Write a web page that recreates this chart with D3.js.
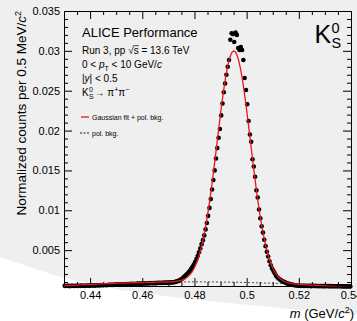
<!DOCTYPE html>
<html><head><meta charset="utf-8">
<script src="https://cdn.jsdelivr.net/npm/d3@7"></script>
<style>
html,body{margin:0;padding:0;background:#fff;}
svg{display:block;font-family:"Liberation Sans",Arial,Helvetica,sans-serif;}
</style></head><body>
<svg id="c" width="357" height="321"></svg>
<script>
// ---- data ----
const binStart = 0.43025;     // centre of first 0.5 MeV bin (GeV/c^2)
const binWidth = 0.0005;
const counts = [
 0.00052,0.00050,0.00053,0.00051,0.00049,0.00052,0.00054,0.00050,0.00052,0.00053,
 0.00051,0.00054,0.00052,0.00055,0.00053,0.00051,0.00054,0.00056,0.00053,0.00055,
 0.00055,0.00058,0.00056,0.00055,0.00058,0.00060,0.00057,0.00059,0.00061,0.00059,
 0.00061,0.00063,0.00060,0.00063,0.00065,0.00064,0.00066,0.00063,0.00067,0.00065,
 0.00068,0.00070,0.00067,0.00071,0.00069,0.00072,0.00074,0.00071,0.00073,0.00075,
 0.00074,0.00077,0.00075,0.00078,0.00076,0.00079,0.00081,0.00078,0.00080,0.00082,
 0.00081,0.00083,0.00081,0.00084,0.00082,0.00085,0.00087,0.00084,0.00086,0.00088,
 0.00087,0.00089,0.00087,0.00090,0.00088,0.00091,0.00090,0.00092,0.00091,0.00093,
 0.00093,0.00094,0.00095,0.00096,0.00098,0.00102,0.00108,0.00113,0.00120,0.00130,
 0.00141,0.00157,0.00172,0.00188,0.00204,0.00223,0.00242,0.00265,0.00292,0.00320,
 0.00351,0.00388,0.00428,0.00473,0.00522,0.00575,0.00625,0.00685,0.00760,0.00840,
 0.00930,0.01030,0.01140,0.01260,0.01380,0.01500,0.01650,0.01780,0.01910,0.02020,
 0.02190,0.02340,0.02480,0.02590,0.02700,0.02800,0.02885,0.03140,0.03220,0.03210,
 0.03111,0.03230,0.03200,0.03036,0.03011,0.03048,0.03011,0.02885,0.02659,0.02509,
 0.02330,0.02120,0.01950,0.01860,0.01640,0.01550,0.01420,0.01250,0.01160,0.01010,
 0.00900,0.00800,0.00720,0.00630,0.00550,0.00480,0.00420,0.00360,0.00310,0.00270,
 0.00240,0.00210,0.00180,0.00160,0.00145,0.00130,0.00120,0.00110,0.00102,0.00095,
 0.00088,0.00082,0.00077,0.00072,0.00068,0.00064,0.00061,0.00058,0.00056,0.00054,
 0.00054,0.00052,0.00053,0.00051,0.00052,0.00053,0.00050,0.00052,0.00051,0.00049,
 0.00051,0.00050,0.00052,0.00049,0.00050,0.00048,0.00050,0.00049,0.00048,0.00049,
 0.00048,0.00050,0.00048,0.00048,0.00047,0.00048,0.00047,0.00046,0.00047,0.00046,
 0.00048,0.00046,0.00046,0.00045,0.00046,0.00045,0.00045,0.00046,0.00045,0.00044
];
// fit: Gaussian + pol2 background (parameters)
const gausAmp = 0.0290, gausMean = 0.4951, gausSigma = 0.0064;
const bkgRef = 0.49;
const bkgCoeffs = [0.00100, -0.0040, -0.20];
const xDomain = [0.43, 0.54];
const yDomain = [0.0005, 0.035];
const xTicks = [0.44, 0.46, 0.48, 0.50, 0.52, 0.54];
const xTickLabels = ["0.44", "0.46", "0.48", "0.5", "0.52", "0.54"];
const yTicks = [0.005, 0.010, 0.015, 0.020, 0.025, 0.030, 0.035];
const yTickLabels = ["0.005", "0.01", "0.015", "0.02", "0.025", "0.03", "0.035"];

// ---- layout ----
const W = 357, H = 321;
const L = 64, R = 351, T = 11, B = 286;
const svg = d3.select("#c");

// background: gray with white swoosh at the bottom
svg.append("rect").attr("width", W).attr("height", H).attr("fill", "#efefef");
const swooshEdge = [[0,257],[60,277],[120,290],[180,298],[240,304],[300,310],[357,315]];
svg.append("path").attr("d", d3.line()(swooshEdge.concat([[357,321],[0,321]])) + "Z").attr("fill", "#ffffff");

svg.append("clipPath").attr("id", "plotclip").append("rect")
  .attr("x", L).attr("y", T).attr("width", R - L).attr("height", B - T + 0.5);

const x = d3.scaleLinear().domain(xDomain).range([L, R]);
const y = d3.scaleLinear().domain(yDomain).range([B, T]);

const xMinor = d3.range(0.43, 0.5401, 0.005).filter(v => !xTicks.some(t => Math.abs(t - v) < 1e-6));
const yMinor = d3.range(0.001, 0.03501, 0.001).filter(v => !yTicks.some(t => Math.abs(t - v) < 1e-6));

function styleAxis(g) {
  g.selectAll("path,line").attr("stroke", "#000").attr("stroke-width", 1);
  g.attr("font-family", null).attr("font-size", null);
  g.selectAll("text").attr("fill", "#000").attr("font-size", 11);
}

// bottom
svg.append("g").attr("transform", `translate(0,${B})`)
  .call(d3.axisBottom(x).tickValues(xMinor).tickSize(-4).tickSizeOuter(0).tickFormat("")).call(styleAxis);
svg.append("g").attr("transform", `translate(0,${B})`)
  .call(d3.axisBottom(x).tickValues(xTicks).tickSize(-8).tickSizeOuter(0).tickPadding(5)
  .tickFormat((d, i) => xTickLabels[i])).call(styleAxis);
// top
svg.append("g").attr("transform", `translate(0,${T})`)
  .call(d3.axisTop(x).tickValues(xMinor).tickSize(-4).tickSizeOuter(0).tickFormat("")).call(styleAxis);
svg.append("g").attr("transform", `translate(0,${T})`)
  .call(d3.axisTop(x).tickValues(xTicks).tickSize(-8).tickSizeOuter(0).tickFormat("")).call(styleAxis);
// left
svg.append("g").attr("transform", `translate(${L},0)`)
  .call(d3.axisLeft(y).tickValues(yMinor).tickSize(-4).tickSizeOuter(0).tickFormat("")).call(styleAxis);
svg.append("g").attr("transform", `translate(${L},0)`)
  .call(d3.axisLeft(y).tickValues(yTicks).tickSize(-8).tickSizeOuter(0).tickPadding(4)
  .tickFormat((d, i) => yTickLabels[i])).call(styleAxis);
// right
svg.append("g").attr("transform", `translate(${R},0)`)
  .call(d3.axisRight(y).tickValues(yMinor).tickSize(-4).tickSizeOuter(0).tickFormat("")).call(styleAxis);
svg.append("g").attr("transform", `translate(${R},0)`)
  .call(d3.axisRight(y).tickValues(yTicks).tickSize(-8).tickSizeOuter(0).tickFormat("")).call(styleAxis);

// data points
const pts = counts.map((v, i) => ({m: binStart + i * binWidth, v}));
svg.append("g").selectAll("circle").data(pts).join("circle")
  .attr("cx", d => x(d.m)).attr("cy", d => y(d.v)).attr("r", 2.3).attr("fill", "#000");

// fit curves
const bkg = m => bkgCoeffs[0] + bkgCoeffs[1] * (m - bkgRef) + bkgCoeffs[2] * (m - bkgRef) ** 2;
const total = m => gausAmp * Math.exp(-0.5 * ((m - gausMean) / gausSigma) ** 2) + bkg(m);
const grid = d3.range(xDomain[0], xDomain[1] + 1e-9, 0.0002);
const fits = svg.append("g").attr("clip-path", "url(#plotclip)");
fits.append("path").datum(grid)
  .attr("d", d3.line().x(m => x(m)).y(m => y(bkg(m))))
  .attr("fill", "none").attr("stroke", "#000").attr("stroke-width", 0.8).attr("stroke-dasharray", "2,2");
fits.append("path").datum(grid)
  .attr("d", d3.line().x(m => x(m)).y(m => y(total(m))))
  .attr("fill", "none").attr("stroke", "#e8161c").attr("stroke-width", 1.3);

// ---- texts ----
svg.append("text").attr("x", 82).attr("y", 37).attr("font-size", 13).text("ALICE Performance");

const runStr = "Run 3, pp √s = 13.6 TeV";
const run = svg.append("text").attr("x", 82).attr("y", 54).attr("font-size", 10).text(runStr);
{
  const e = run.node().getExtentOfChar(runStr.indexOf("s ="));
  svg.append("line").attr("x1", e.x - 0.5).attr("x2", e.x + e.width + 0.3)
    .attr("y1", 54 - 8.3).attr("y2", 54 - 8.3).attr("stroke", "#000").attr("stroke-width", 0.7);
}

const pt = svg.append("text").attr("x", 82).attr("y", 68).attr("font-size", 10);
pt.append("tspan").text("0 < ");
pt.append("tspan").attr("font-style", "italic").text("p");
pt.append("tspan").attr("font-size", 7).attr("dy", 3).text("T");
pt.append("tspan").attr("dy", -3).text(" < 10 GeV/");
pt.append("tspan").attr("font-style", "italic").text("c");

const yr = svg.append("text").attr("x", 82).attr("y", 82).attr("font-size", 10);
yr.append("tspan").text("|");
yr.append("tspan").attr("font-style", "italic").text("y");
yr.append("tspan").text("| < 0.5");

// K0S -> pi+ pi-  (one text element)
{
  const base = 96;
  const t = svg.append("text").attr("x", 82).attr("y", base).attr("font-size", 10);
  const k = t.append("tspan").text("K");
  const kx = 82 + k.node().getComputedTextLength() + 0.3;
  t.append("tspan").attr("x", kx).attr("y", base - 4.5).attr("font-size", 7).text("0");
  t.append("tspan").attr("x", kx).attr("y", base + 2.5).attr("font-size", 7).text("S");
  t.append("tspan").attr("x", kx + 5.5).attr("y", base).text("→ π");
  t.append("tspan").attr("font-size", 7).attr("dy", -4).text("+");
  t.append("tspan").attr("dy", 4).text("π");
  t.append("tspan").attr("font-size", 7).attr("dy", -4).text("−");
}

// legend
svg.append("line").attr("x1", 81).attr("x2", 89).attr("y1", 117).attr("y2", 117)
  .attr("stroke", "#e8161c").attr("stroke-width", 1.3);
svg.append("text").attr("x", 92).attr("y", 119.5).attr("font-size", 7).text("Gaussian fit + pol. bkg.");
svg.append("line").attr("x1", 80).attr("x2", 89).attr("y1", 133).attr("y2", 133)
  .attr("stroke", "#000").attr("stroke-width", 0.9).attr("stroke-dasharray", "2,1.5");
svg.append("text").attr("x", 92).attr("y", 135.5).attr("font-size", 7).text("pol. bkg.");

// big K0S label (one text element)
{
  const t = svg.append("text").attr("x", 314.5).attr("y", 43).attr("font-size", 25);
  t.append("tspan").text("K");
  t.append("tspan").attr("x", 331.5).attr("y", 32.5).attr("font-size", 14.5).text("0");
  t.append("tspan").attr("x", 331.5).attr("y", 48).attr("font-size", 14.5).text("S");
}

// axis titles
const yt = svg.append("text").attr("transform", "translate(26,11) rotate(-90)")
  .attr("text-anchor", "end").attr("font-size", 13.5);
yt.append("tspan").text("Normalized counts per 0.5 MeV/");
yt.append("tspan").attr("font-style", "italic").text("c");
yt.append("tspan").attr("font-size", 9).attr("dy", -5).text("2");

const xt = svg.append("text").attr("x", 354).attr("y", 318).attr("text-anchor", "end").attr("font-size", 13);
xt.append("tspan").attr("font-style", "italic").text("m");
xt.append("tspan").text(" (GeV/");
xt.append("tspan").attr("font-style", "italic").text("c");
xt.append("tspan").attr("font-size", 9).attr("dy", -5).text("2");
xt.append("tspan").attr("dy", 5).text(")");
</script>
</body></html>
